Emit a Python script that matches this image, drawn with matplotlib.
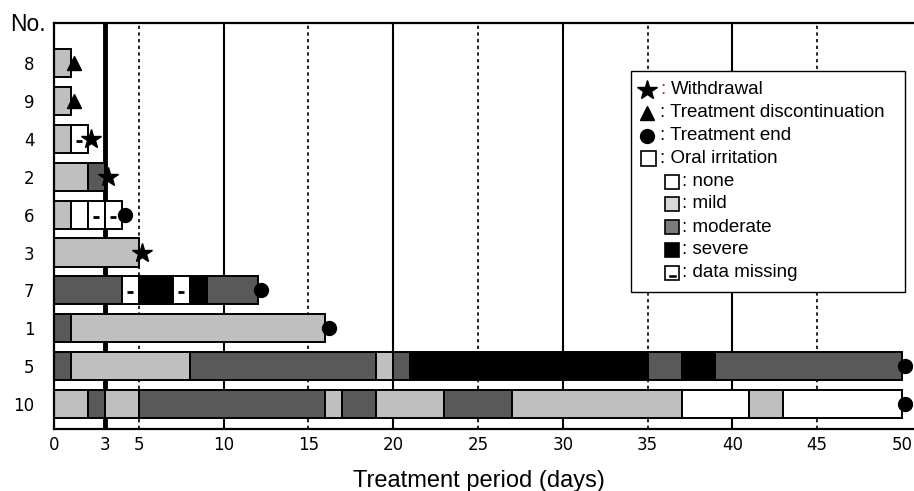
import matplotlib
matplotlib.use('Agg')
import matplotlib.pyplot as plt
from matplotlib.patches import Rectangle
from matplotlib.lines import Line2D

# patients, top to bottom
patients = ['8', '9', '4', '2', '6', '3', '7', '1', '5', '10']

# segment boundaries (days) and oral irritation grade of each segment
# N none, L mild, M moderate, S severe, X data missing
bounds = [
    [0, 1],
    [0, 1],
    [0, 1, 2],
    [0, 2, 3],
    [0, 1, 2, 3, 4],
    [0, 5],
    [0, 4, 5, 7, 8, 9, 12],
    [0, 1, 16],
    [0, 1, 8, 19, 20, 21, 35, 37, 39, 50],
    [0, 2, 3, 5, 16, 17, 19, 23, 27, 37, 41, 43, 50],
]
grades = [
    ['L'],
    ['L'],
    ['L', 'X'],
    ['L', 'M'],
    ['L', 'N', 'X', 'X'],
    ['L'],
    ['M', 'X', 'S', 'X', 'S', 'M'],
    ['M', 'L'],
    ['M', 'L', 'M', 'L', 'M', 'S', 'M', 'S', 'M'],
    ['L', 'M', 'L', 'M', 'L', 'M', 'L', 'M', 'L', 'N', 'L', 'N'],
]
# how each patient's treatment ended
outcome = ['disc', 'disc', 'withdrawal', 'withdrawal', 'end',
           'withdrawal', 'end', 'end', 'end', 'end']

xticks = [0, 3, 5, 10, 15, 20, 25, 30, 35, 40, 45, 50]

colors = {'N': 'white', 'L': '#bfbfbf', 'M': '#595959', 'S': 'black', 'X': 'white'}
markers = {'withdrawal': ('*', 15), 'disc': ('^', 10), 'end': ('o', 10)}

W, H = 914, 491
fig = plt.figure(figsize=(W / 100, H / 100), dpi=100)
ax = fig.add_axes([54 / W, 1 - 429 / H, (W - 54) / W, (429 - 23) / H])

# reference lines
ax.axvline(3, color='black', lw=3.5, zorder=1)
for v in [10, 20, 30, 40]:
    ax.axvline(v, color='black', lw=1.5, zorder=1)
for v in [5, 15, 25, 35, 45]:
    ax.axvline(v, color='black', lw=1.2, ls=(0, (2, 2)), zorder=1)

for i, (b, g) in enumerate(zip(bounds, grades)):
    for k, grade in enumerate(g):
        ax.barh(i, b[k + 1] - b[k], left=b[k], height=0.74, color=colors[grade],
                edgecolor='black', linewidth=1.4, zorder=3)
        if grade == 'X':
            ax.plot((b[k] + b[k + 1]) / 2, i + 0.05, marker='_', ms=5, mew=2,
                    color='black', zorder=4)
    m, ms = markers[outcome[i]]
    ax.plot(b[-1] + 0.2, i, marker=m, ms=ms, color='black', zorder=5,
            clip_on=False)

ax.set_xlim(0, (W - 54) / 16.96)
ax.set_ylim(9.66, -1.06)
ax.set_yticks(range(len(patients)))
ax.set_yticklabels(patients)
ax.set_xticks(xticks)
ax.tick_params(axis='both', length=0, labelsize=12)
ax.tick_params(axis='y', pad=14)
ax.tick_params(axis='x', pad=5)
ax.spines['right'].set_visible(False)
for s in ['left', 'top', 'bottom']:
    ax.spines[s].set_linewidth(1.6)
    ax.spines[s].set_zorder(6)

fig.text(10 / W, 1 - 31 / H, 'No.', fontsize=16.5, family='Liberation Sans',
         va='baseline')
fig.text(479 / W, 1 - 487 / H, 'Treatment period (days)', fontsize=17,
         family='Liberation Sans', ha='center', va='baseline')


# legend drawn by hand, in pixel positions
def fx(px):
    return px / W


def fy(py):
    return 1 - py / H


fig.add_artist(Rectangle((fx(631), fy(292)), (905 - 631) / W, (292 - 71) / H,
                         transform=fig.transFigure, fill=True, facecolor='white',
                         edgecolor='black', lw=1, zorder=10))

lf = dict(fontsize=13.5, family='Liberation Sans', va='center', zorder=11)
rows_y = [90, 112.5, 135.5, 158.5, 181.5, 204, 227, 250, 272.5]

fig.add_artist(Line2D([fx(647)], [fy(rows_y[0])], marker='*', ms=15, color='black',
                      transform=fig.transFigure, zorder=11))
fig.text(fx(660), fy(rows_y[0]), ':', color='red', **lf)
fig.text(fx(670.5), fy(rows_y[0]), 'Withdrawal', **lf)
fig.add_artist(Line2D([fx(647)], [fy(rows_y[1])], marker='^', ms=10, color='black',
                      transform=fig.transFigure, zorder=11))
fig.text(fx(660), fy(rows_y[1]), ': Treatment discontinuation', **lf)
fig.add_artist(Line2D([fx(647)], [fy(rows_y[2])], marker='o', ms=10, color='black',
                      transform=fig.transFigure, zorder=11))
fig.text(fx(660), fy(rows_y[2]), ': Treatment end', **lf)
fig.add_artist(Rectangle((fx(640.5), fy(rows_y[3] + 7.5)), 15 / W, 15 / H,
                         transform=fig.transFigure, facecolor='white',
                         edgecolor='black', lw=1.2, zorder=11))
fig.text(fx(660), fy(rows_y[3]), ': Oral irritation', **lf)

sub_labels = ['none', 'mild', 'moderate', 'severe', 'data missing']
sub_colors = ['white', '#d9d9d9', '#7a7a7a', 'black', 'white']
for j, (lab, c) in enumerate(zip(sub_labels, sub_colors)):
    yy = rows_y[4 + j]
    fig.add_artist(Rectangle((fx(665), fy(yy + 7)), 14 / W, 14 / H,
                             transform=fig.transFigure, facecolor=c,
                             edgecolor='black', lw=1.2, zorder=11))
    if lab == 'data missing':
        fig.add_artist(Line2D([fx(669.5), fx(674.5)], [fy(yy + 3.5)] * 2,
                              color='black', lw=1.8, transform=fig.transFigure,
                              zorder=12))
    fig.text(fx(681.5), fy(yy), ': ' + lab, **lf)

fig.savefig('out.png', dpi=100)
